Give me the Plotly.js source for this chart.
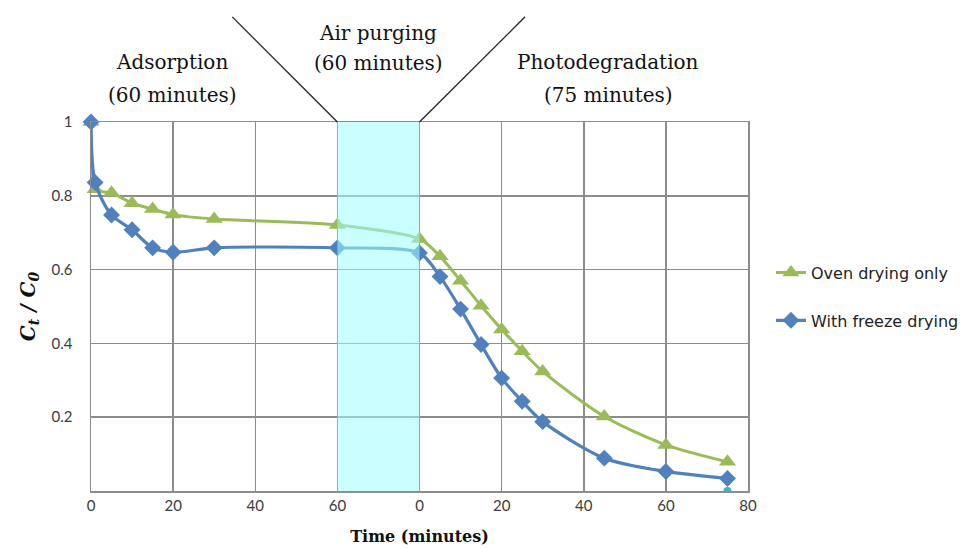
<!DOCTYPE html>
<html>
<head>
<meta charset="utf-8">
<script src="https://cdn.plot.ly/plotly-3.0.1.min.js"></script>
<style>html,body{margin:0;padding:0;background:#fff;}#chart{width:979px;height:548px;}</style>
</head>
<body>
<div id="chart"></div>
<script>
// Phase durations (minutes) and the compressed width of the air-purging band on the axis
const adsorptionEnd = 60;
const purgeBandWidth = 20;

// Adsorption phase (time in minutes)
const adsorptionTime   = [0, 1, 5, 10, 15, 20, 30, 60];
const adsorptionOven   = [1.0, 0.818, 0.808, 0.780, 0.764, 0.749, 0.737, 0.721];
const adsorptionFreeze = [1.0, 0.836, 0.748, 0.708, 0.659, 0.647, 0.659, 0.659];

// Photodegradation phase (time in minutes, restarting at 0)
const photoTime   = [0, 5, 10, 15, 20, 25, 30, 45, 60, 75];
const photoOven   = [0.683, 0.636, 0.570, 0.502, 0.438, 0.379, 0.324, 0.202, 0.125, 0.079];
const photoFreeze = [0.645, 0.581, 0.493, 0.397, 0.306, 0.243, 0.188, 0.089, 0.053, 0.034];

// Stray marker visible at the axis floor
const strayTime = [75];
const strayValue = [0];

// Tick labels
const xTickLabels = ['0', '20', '40', '60', '0', '20', '40', '60', '80'];
const yTickVals = [0.2, 0.4, 0.6, 0.8, 1];
const yTickLabels = ['0.2', '0.4', '0.6', '0.8', '1'];

const seriesNames = ['Oven drying only', 'With freeze drying'];
const phaseLabels = [
  ['Adsorption', '(60 minutes)'],
  ['Air purging', '(60 minutes)'],
  ['Photodegradation', '(75 minutes)']
];

const photoOffset = adsorptionEnd + purgeBandWidth;
const toAxis = t => t + photoOffset;

const xOven = adsorptionTime.concat(photoTime.map(toAxis));
const yOven = adsorptionOven.concat(photoOven);
const xFreeze = adsorptionTime.concat(photoTime.map(toAxis));
const yFreeze = adsorptionFreeze.concat(photoFreeze);

const xTickVals = xTickLabels.map((_, i) => i * 20);

const green = '#9BBB59';
const blue = '#4F81BD';

const traces = [
  {
    x: strayTime.map(toAxis), y: strayValue, mode: 'markers', showlegend: false,
    marker: {color: '#4BACC6', size: 8, symbol: 'circle'}, cliponaxis: true, hoverinfo: 'skip'
  },
  {
    x: xOven, y: yOven, name: seriesNames[0], legendgroup: 'a',
    mode: 'lines+markers', line: {color: green, width: 3, shape: 'spline', smoothing: 0.8},
    marker: {symbol: 'triangle-up', size: 15, color: green}, cliponaxis: false
  },
  {
    x: xFreeze, y: yFreeze, name: seriesNames[1], legendgroup: 'b',
    mode: 'lines+markers', line: {color: blue, width: 3.2, shape: 'spline', smoothing: 0.8},
    marker: {symbol: 'diamond', size: 13, color: blue}, cliponaxis: false
  }
];

const serif = '"DejaVu Serif", "Liberation Serif", serif';
const labelFont = {family: 'Lato, "Open Sans", sans-serif', size: 15, color: '#3a3a3a'};

// Phase label placement (annotation positions)
const phaseX = [19.8, 70, 126];
const phaseY = [[1.1626, 1.0732], [1.2412, 1.1599], [1.1626, 1.0732]];
const annotations = [];
phaseLabels.forEach((lines, i) => {
  lines.forEach((txt, j) => {
    annotations.push({text: txt, xref: 'x', yref: 'paper', x: phaseX[i], y: phaseY[i][j],
      yanchor: 'middle', xanchor: 'center', showarrow: false,
      font: {family: serif, size: 20, color: '#111'}});
  });
});

const layout = {
  width: 979, height: 548,
  margin: {l: 91, r: 231, t: 122, b: 57},
  paper_bgcolor: '#ffffff', plot_bgcolor: '#ffffff',
  showlegend: true,
  legend: {
    x: 1.035, y: 0.638, xanchor: 'left', yanchor: 'top',
    traceorder: 'grouped', tracegroupgap: 24,
    font: {family: '"DejaVu Sans", sans-serif', size: 16, color: '#222'},
    bgcolor: 'rgba(0,0,0,0)'
  },
  xaxis: {
    range: [0, 160], tickmode: 'array', tickvals: xTickVals, ticktext: xTickLabels,
    showgrid: true, gridcolor: '#8c8c8c', gridwidth: 1.5,
    showline: true, linecolor: '#8c8c8c', linewidth: 1.5, mirror: true,
    zeroline: false, ticks: '', tickfont: labelFont,
    title: {text: '<b>Time (minutes)</b>', font: {family: serif, size: 16, color: '#111'}, standoff: 18},
    fixedrange: true
  },
  yaxis: {
    range: [0, 1], tickmode: 'array', tickvals: yTickVals, ticktext: yTickLabels,
    showgrid: true, gridcolor: '#8c8c8c', gridwidth: 1.5,
    showline: true, linecolor: '#8c8c8c', linewidth: 1.5, mirror: true,
    zeroline: false, ticks: '', tickfont: labelFont, ticklabelstandoff: 14,
    title: {text: '<b><i>C<sub>t</sub> / C<sub>0</sub></i></b>', font: {family: serif, size: 20, color: '#111'}, standoff: 10},
    fixedrange: true
  },
  shapes: [
    {type: 'rect', xref: 'x', yref: 'paper', x0: adsorptionEnd, x1: adsorptionEnd + purgeBandWidth, y0: 0, y1: 1,
     fillcolor: 'rgba(160,255,255,0.55)', line: {width: 0}, layer: 'above'},
    {type: 'line', xref: 'x', yref: 'paper', x0: 34.4, y0: 1.285, x1: adsorptionEnd, y1: 1,
     line: {color: '#222', width: 1.3}},
    {type: 'line', xref: 'x', yref: 'paper', x0: 105.7, y0: 1.285, x1: adsorptionEnd + purgeBandWidth, y1: 1,
     line: {color: '#222', width: 1.3}}
  ],
  annotations: annotations
};

Plotly.newPlot('chart', traces, layout, {displayModeBar: false, staticPlot: true});
</script>
</body>
</html>
